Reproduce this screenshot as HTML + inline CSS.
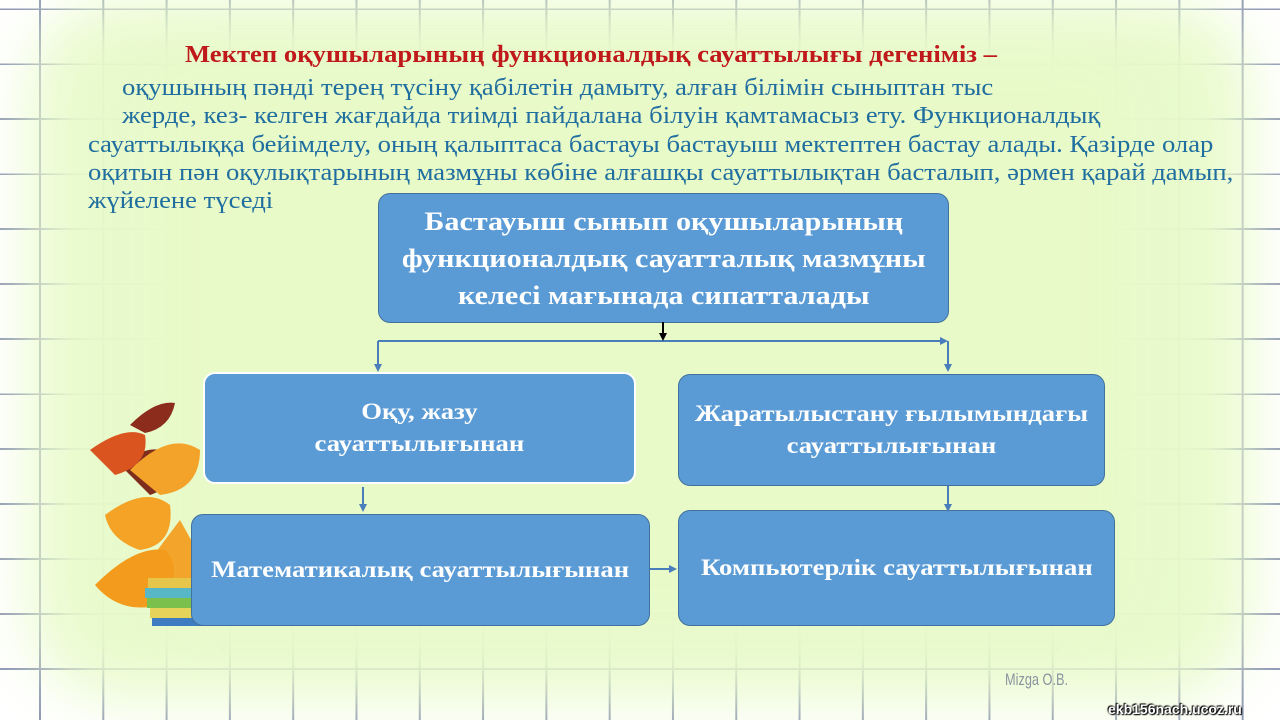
<!DOCTYPE html>
<html><head><meta charset="utf-8"><style>
html,body{margin:0;padding:0}
body{width:1280px;height:720px;position:relative;overflow:hidden;background:#fff;font-family:"Liberation Serif",serif}
.grid{position:absolute;inset:0;background-image:linear-gradient(90deg,#8f96b4 2px,transparent 2px),linear-gradient(#8f96b4 2px,transparent 2px);background-size:63.3px 55px;background-position:39px 8px}
.glow{position:absolute;left:60px;top:30px;width:1160px;height:640px;border-radius:60px;background:#e9fbcc;box-shadow:0 0 40px 30px #e9fbcc;filter:blur(22px);opacity:.97}
.glow2{position:absolute;left:150px;top:60px;width:980px;height:560px;background:#e8fac8;border-radius:40px;filter:blur(25px)}
.t{position:absolute;white-space:nowrap;font-size:24px;color:#1f6e9f;transform:scaleX(1.11);transform-origin:left top}
.h{color:#c0191b;font-weight:bold;font-size:24px}
.box{position:absolute;background:#5b9bd5;border:1.5px solid #41719c;border-radius:12px;color:#fff;font-weight:bold;display:flex;align-items:center;justify-content:center;text-align:center;box-sizing:border-box}
.box span{display:inline-block;transform:scaleX(1.16);white-space:nowrap}
.wb{border:2px solid #fff}
svg{position:absolute;left:0;top:0}
</style></head><body>
<div class="grid"></div>
<div class="glow"></div>
<div class="glow2"></div>
<div class="t h" style="left:185px;top:42px">Мектеп оқушыларының функционалдық сауаттылығы дегеніміз –</div>
<div class="t" style="left:122px;top:75px">оқушының пәнді терең түсіну қабілетін дамыту, алған білімін сыныптан тыс</div>
<div class="t" style="left:122px;top:103px">жерде, кез- келген жағдайда тиімді пайдалана білуін қамтамасыз ету. Функционалдық</div>
<div class="t" style="left:88px;top:132px">сауаттылыққа бейімделу, оның қалыптаса бастауы бастауыш мектептен бастау алады. Қазірде олар</div>
<div class="t" style="left:88px;top:160px">оқитын пән оқулықтарының мазмұны көбіне алғашқы сауаттылықтан басталып, әрмен қарай дамып,</div>
<div class="t" style="left:88px;top:188px">жүйелене түседі</div>

<svg width="1280" height="720">
<g>
<path d="M150 560 l30 -40 l25 45 l-20 35z" fill="#f2a52a"/>
<path d="M95 585 q40 -40 70 -35 q20 20 -5 55 q-40 10 -65 -20z" fill="#f39b1c"/>
<path d="M105 515 q40 -30 65 -10 q5 40 -30 45 q-30 -10 -35 -35z" fill="#f4a326"/>
<path d="M120 465 q30 -25 55 -10 q5 30 -25 40z" fill="#7f2d1d"/>
<path d="M130 470 q40 -40 70 -20 q0 40 -40 45z" fill="#f3a22a"/>
<path d="M90 450 q35 -25 55 -15 q5 30 -30 40z" fill="#d9541e"/>
<path d="M130 425 q25 -25 45 -22 q-5 25 -30 30z" fill="#8b2c1c"/>
<rect x="148" y="578" width="60" height="10" fill="#e6c64a"/>
<rect x="145" y="588" width="62" height="10" fill="#58b7c6"/>
<rect x="147" y="598" width="60" height="10" fill="#7bbf4c"/>
<rect x="150" y="608" width="58" height="10" fill="#e6d35a"/>
<rect x="152" y="618" width="55" height="8" fill="#3d7cc0"/>
</g>
</svg>

<div class="box" style="left:378px;top:193px;width:571px;height:130px;font-size:26px;line-height:37px"><span>Бастауыш сынып оқушыларының<br>функционалдық сауатталық мазмұны<br>келесі мағынада сипатталады</span></div>
<div class="box wb" style="left:203px;top:372px;width:433px;height:112px;font-size:23px;line-height:32px"><span>Оқу, жазу<br>сауаттылығынан</span></div>
<div class="box" style="left:678px;top:374px;width:427px;height:112px;font-size:23px;line-height:32px"><span>Жаратылыстану ғылымындағы<br>сауаттылығынан</span></div>
<div class="box" style="left:191px;top:514px;width:459px;height:112px;font-size:23px"><span>Математикалық сауаттылығынан</span></div>
<div class="box" style="left:678px;top:510px;width:437px;height:116px;font-size:23px"><span>Компьютерлік сауаттылығынан</span></div>

<svg width="1280" height="720">
<g stroke="#4a7ebb" stroke-width="2" fill="none">
<path d="M378 341 H942"/>
<path d="M378 341 V366"/>
<path d="M948 341 V366"/>
<path d="M363 487 V506"/>
<path d="M948 486 V506"/>
<path d="M650 569 H671"/>
</g>
<g fill="#4a7ebb">
<path d="M948 341 l-8 -4 v8z"/>
<path d="M378 372 l-4 -8 h8z"/>
<path d="M948 372 l-4 -8 h8z"/>
<path d="M363 512 l-4 -8 h8z"/>
<path d="M948 512 l-4 -8 h8z"/>
<path d="M677 569 l-8 -4 v8z"/>
</g>
<path d="M663 322 V334" stroke="#000" stroke-width="2"/>
<path d="M663 341 l-4 -8 h8z" fill="#000"/>
</svg>
<div style="position:absolute;left:1005px;top:670px;font-family:'Liberation Sans',sans-serif;font-size:17px;color:#8a94a0;transform:scaleX(.75);transform-origin:left">Mizga O.B.</div>
<div style="position:absolute;left:1108px;top:701px;font-family:'Liberation Sans',sans-serif;font-weight:bold;font-size:14px;color:#fff;text-shadow:0 0 2px #000,1px 1px 1px #000,-1px -1px 1px #000">ekb156nach.ucoz.ru</div>
</body></html>
